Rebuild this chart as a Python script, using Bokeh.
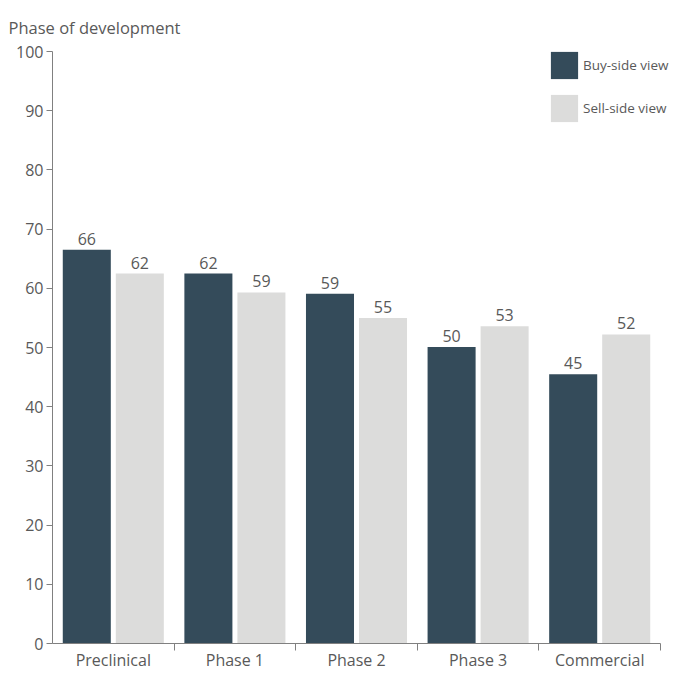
from bokeh.plotting import figure
from bokeh.models import Range1d, FixedTicker, Legend, LegendItem, ColumnDataSource
from bokeh.core.properties import value
from bokeh.embed import file_html
from bokeh.resources import INLINE

# ---- data ----
categories = ["Preclinical", "Phase 1", "Phase 2", "Phase 3", "Commercial"]
buy_side = [66.5, 62.5, 59.1, 50.1, 45.5]
sell_side = [62.5, 59.3, 55.0, 53.6, 52.2]
buy_labels = ["66", "62", "59", "50", "45"]
sell_labels = ["62", "59", "55", "53", "52"]
series_names = ["Buy-side view", "Sell-side view"]
y_ticks = [0, 10, 20, 30, 40, 50, 60, 70, 80, 90, 100]
title_text = "Phase of development"

BUY_COLOR = "#344B5A"
SELL_COLOR = "#DCDCDB"
TEXT_COLOR = "#595959"
AXIS_COLOR = "#808080"
FONT = "Open Sans"

W, H = 675, 673
LEFT, TOP = 52, 51
CAT_PX = 608            # pixel span of the categorical axis
FRAME_W = W - LEFT      # frame reaches the right edge so the legend is not clipped

n = len(categories)
centers = [i + 0.5 for i in range(n)]
offset = 0.218
bar_w = 0.395

buy_src = ColumnDataSource(dict(x=[c - offset for c in centers], top=buy_side, label=buy_labels))
sell_src = ColumnDataSource(dict(x=[c + offset for c in centers], top=sell_side, label=sell_labels))

p = figure(width=W, height=H, output_backend="svg", toolbar_location=None,
           x_range=Range1d(0, n * FRAME_W / CAT_PX), y_range=Range1d(0, 100),
           min_border_left=LEFT, min_border_right=0, min_border_top=TOP, min_border_bottom=20)
p.outline_line_color = None
p.xgrid.visible = False
p.ygrid.visible = False
p.background_fill_color = "white"
p.border_fill_color = "white"

# title
p.title.text = title_text
p.title.text_font = FONT
p.title.text_font_size = "16.5px"
p.title.text_font_style = "normal"
p.title.text_color = TEXT_COLOR
p.title.align = "left"
p.title.vertical_align = "bottom"
p.title.offset = -44
p.title.standoff = 26

r_buy = p.vbar(x="x", top="top", width=bar_w, source=buy_src, fill_color=BUY_COLOR, line_color=None)
r_sell = p.vbar(x="x", top="top", width=bar_w, source=sell_src, fill_color=SELL_COLOR, line_color=None)

for src in (buy_src, sell_src):
    p.text(x="x", y="top", text="label", source=src, text_align="center", text_baseline="bottom",
           y_offset=-5, text_font=value(FONT), text_font_size="16px", text_color=TEXT_COLOR)

# y axis
yax = p.yaxis[0]
yax.ticker = FixedTicker(ticks=y_ticks)
yax.axis_line_color = AXIS_COLOR
yax.major_tick_line_color = AXIS_COLOR
yax.major_tick_out = 6
yax.major_tick_in = 0
yax.minor_tick_line_color = None
yax.major_label_standoff = 3
yax.major_label_text_font = FONT
yax.major_label_text_font_size = "16px"
yax.major_label_text_color = TEXT_COLOR

# x axis
xax = p.xaxis[0]
xax.bounds = (0, n)
xax.ticker = FixedTicker(ticks=centers, minor_ticks=[float(i) for i in range(1, n + 1)])
xax.major_label_overrides = {c: cat for c, cat in zip(centers, categories)}
xax.axis_line_color = AXIS_COLOR
xax.major_tick_line_color = None
xax.major_tick_out = 0
xax.major_tick_in = 0
xax.minor_tick_line_color = AXIS_COLOR
xax.minor_tick_out = 7
xax.minor_tick_in = 0
xax.major_label_standoff = -2
xax.major_label_text_font = FONT
xax.major_label_text_font_size = "16px"
xax.major_label_text_color = TEXT_COLOR

legend = Legend(items=[LegendItem(label=series_names[0], renderers=[r_buy]),
                       LegendItem(label=series_names[1], renderers=[r_sell])],
                location=(495, 518), orientation="vertical")
legend.glyph_width = 34
legend.glyph_height = 34
legend.spacing = 9
legend.padding = 0
legend.margin = 0
legend.label_standoff = 2
legend.label_text_font = FONT
legend.label_text_font_size = "13.5px"
legend.label_text_color = TEXT_COLOR
legend.border_line_color = None
legend.background_fill_alpha = 0
p.add_layout(legend, "center")

open("out.html", "w").write(file_html(p, INLINE))
